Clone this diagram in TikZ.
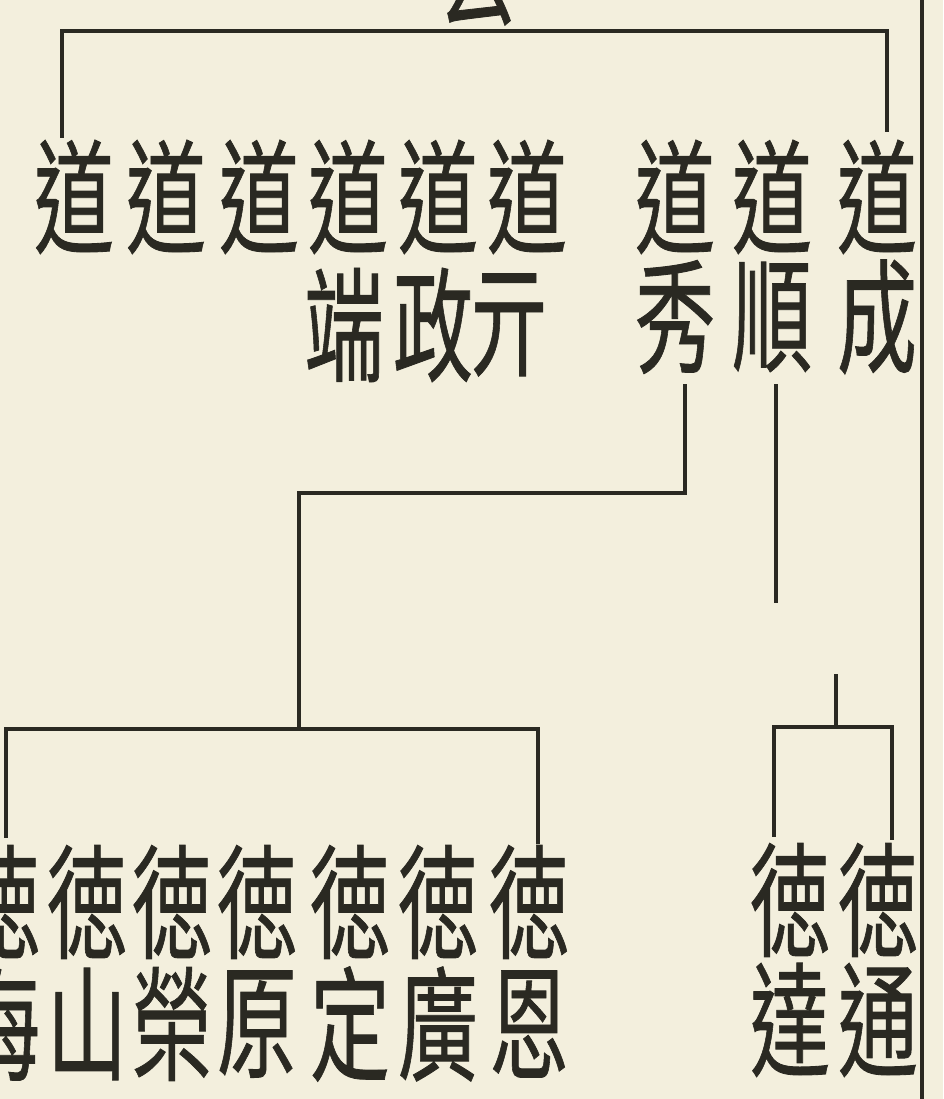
\documentclass[tikz,border=0pt]{standalone}
\usepackage{fontspec}
\newfontfamily\cjk[FakeBold=0.7]{Noto Sans CJK TC}
\definecolor{paper}{HTML}{F3EFDD}
\definecolor{ink}{HTML}{2A2922}
\newcommand{\tallch}[1]{\scalebox{1}[1.55]{#1}}
\begin{document}
\begin{tikzpicture}[x=1pt,y=-1pt,
  ch/.style={inner sep=0pt, outer sep=0pt, text=ink, font=\cjk\fontsize{80}{80}\selectfont},
  ln/.style={draw=ink, line width=3.6pt, line cap=rect, line join=miter}]
\fill[paper] (0,0) rectangle (943,1099);
\useasboundingbox (0,0) rectangle (943,1099);
\clip (0,0) rectangle (943,1099);

% fragment of the heading above (cut by the page edge)
\node[ch] (head) at (478,-31) {\tallch{去}};

% generation 道
\foreach \nm/\x in {d1/74, d2/166, d3/259, d4/348, d5/438, d6/527, d7/675, d8/772, d9/877}
  \node[ch] (\nm) at (\x,197) {\tallch{道}};
\node[ch] (duan)  at (344,325) {\tallch{端}};
\node[ch] (zheng) at (433,325) {\tallch{政}};
\node[ch] (qi)    at (509,325) {\tallch{亓}};
\node[ch] (xiu)   at (675,317) {\tallch{秀}};
\node[ch] (shun)  at (772,317) {\tallch{順}};
\node[ch] (cheng) at (877,317) {\tallch{成}};

% generation 徳
\foreach \nm/\x in {e1/0, e2/87, e3/172, e4/257, e5/350, e6/438, e7/529}
  \node[ch] (\nm) at (\x,902) {\tallch{徳}};
\node[ch] (hai)   at (0,1024)   {\tallch{海}};
\node[ch] (shan)  at (87,1024)  {\tallch{山}};
\node[ch] (rong)  at (172,1024) {\tallch{榮}};
\node[ch] (yuan)  at (257,1024) {\tallch{原}};
\node[ch] (ding)  at (350,1024) {\tallch{定}};
\node[ch] (guang) at (438,1024) {\tallch{廣}};
\node[ch] (en)    at (529,1024) {\tallch{恩}};
\node[ch] (f1) at (790,900) {\tallch{徳}};
\node[ch] (f2) at (878,900) {\tallch{徳}};
\node[ch] (da)   at (790,1020) {\tallch{達}};
\node[ch] (tong) at (878,1020) {\tallch{通}};

% junction coordinates
\coordinate (t1) at (62,136);
\coordinate (t2) at (62,31);
\coordinate (t3) at (887,31);
\coordinate (t4) at (887,130);
\coordinate (x1) at (685,386);
\coordinate (x2) at (685,493);
\coordinate (x3) at (299,493);
\coordinate (x4) at (299,729);
\coordinate (b1) at (6,836);
\coordinate (b2) at (6,729);
\coordinate (b3) at (538,729);
\coordinate (b4) at (538,842);
\coordinate (s1) at (776,386);
\coordinate (s2) at (776,601);
\coordinate (m1) at (836,676);
\coordinate (m2) at (836,724);
\coordinate (r1) at (774,835);
\coordinate (r2) at (774,727);
\coordinate (r3) at (892,727);
\coordinate (r4) at (892,838);
\coordinate (bt) at (922,0);
\coordinate (bb) at (922,1099);

% connectors
\draw[ln] (t1) -- (t2) -- (t3) -- (t4);
\draw[ln] (x1) -- (x2) -- (x3) -- (x4);
\draw[ln] (b1) -- (b2) -- (b3) -- (b4);
\draw[ln] (s1) -- (s2);
\draw[ln] (m1) -- (m2);
\draw[ln] (r1) -- (r2) -- (r3) -- (r4);
\draw[draw=ink, line width=3.2pt] (bt) -- (bb);
\end{tikzpicture}
\end{document}
